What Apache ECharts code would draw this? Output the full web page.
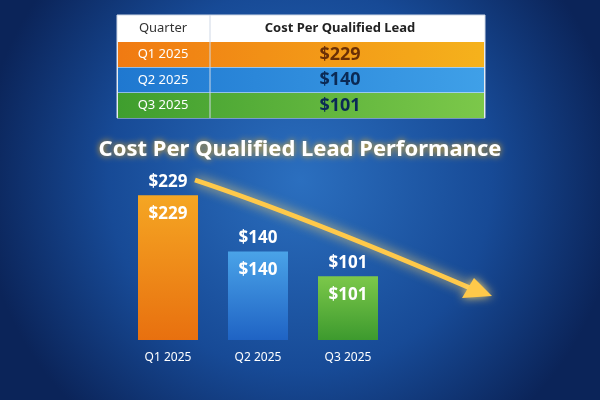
<!DOCTYPE html>
<html><head><meta charset="utf-8">
<script src="https://cdn.jsdelivr.net/npm/echarts@6/dist/echarts.min.js"></script>
<style>html,body{margin:0;padding:0;}#c{width:600px;height:400px;}</style>
</head><body><div id="c"></div>
<script>
const categories = ['Q1 2025','Q2 2025','Q3 2025'];
const values = [229,140,101];
const tableHeader = ['Quarter','Cost Per Qualified Lead'];
const colors = [['#f5a623','#e8700f'],['#4aa3e8','#1f63c4'],['#7cc84a','#3d9a2e']];
const rowColors = [['#f07a12','#f5b21c'],['#1f78d0','#3fa0e8'],['#3f9e2e','#7cc84a']];

const chart = echarts.init(document.getElementById('c'));
const g = [];
g.push({type:'rect',shape:{x:117,y:15,width:368,height:103},style:{fill:'#fff',stroke:'#cfd8e6',lineWidth:1}});
g.push({type:'text',style:{text:tableHeader[0],x:163,y:28,align:'center',verticalAlign:'middle',fill:'#333',font:'13px "Noto Sans"'}});
g.push({type:'text',style:{text:tableHeader[1],x:340,y:28,align:'center',verticalAlign:'middle',fill:'#222',font:'bold 13px "Noto Sans"'}});
values.forEach((v,i)=>{
  const y=42+i*25.5;
  g.push({type:'rect',shape:{x:118,y:y,width:366,height:25},style:{fill:new echarts.graphic.LinearGradient(0,0,1,0,[{offset:0,color:rowColors[i][0]},{offset:1,color:rowColors[i][1]}])}});
  g.push({type:'text',style:{text:categories[i],x:163,y:y+12.5,align:'center',verticalAlign:'middle',fill:'#fff',font:'13px "Noto Sans"'}});
  g.push({type:'text',style:{text:'$'+v,x:340,y:y+12.5,align:'center',verticalAlign:'middle',fill:i==0?'#6b2f06':'#0b2a55',font:'bold 18px "Noto Sans"'}});
});
g.push({type:'line',shape:{x1:210,y1:15,x2:210,y2:118},style:{stroke:'#cfd8e6',lineWidth:1}});
g.push({type:'bezierCurve',shape:{x1:195,y1:180,cpx1:300,cpy1:215,x2:470,y2:288},style:{stroke:'#ffc94a',lineWidth:5,shadowBlur:12,shadowColor:'#ffd76a'}});
g.push({type:'polygon',shape:{points:[[492,296],[462,298],[474,278]]},style:{fill:'#ffc94a',shadowBlur:10,shadowColor:'#ffd76a'}});

chart.setOption({
  backgroundColor:new echarts.graphic.RadialGradient(0.5,0.45,0.8,[{offset:0,color:'#2b6fbf'},{offset:0.6,color:'#174a96'},{offset:1,color:'#0b2459'}]),
  title:{text:'Cost Per Qualified Lead Performance',left:'center',top:134,textStyle:{color:'#fff',fontSize:22,fontWeight:'bold',fontFamily:'"Noto Sans"',textShadowColor:'#f5b21c',textShadowBlur:6}},
  grid:{left:123,width:270,top:160,bottom:60},
  xAxis:{type:'category',data:categories,axisLine:{show:false},axisTick:{show:false},axisLabel:{color:'#fff',fontSize:12,margin:12,fontFamily:'"Noto Sans"'}},
  yAxis:{type:'value',min:0,max:285,show:false},
  series:[{type:'bar',barWidth:60,data:values.map((v,i)=>({value:v,itemStyle:{color:new echarts.graphic.LinearGradient(0,0,0,1,[{offset:0,color:colors[i][0]},{offset:1,color:colors[i][1]}])}})),
    label:{show:true,position:'top',formatter:'${c}',color:'#fff',fontSize:17,fontWeight:'bold',fontFamily:'"Noto Sans"'}},
   {type:'bar',barWidth:60,barGap:'-100%',data:values,itemStyle:{color:'transparent'},z:3,
    label:{show:true,position:'insideTop',distance:10,formatter:'${c}',color:'#fff',fontSize:17,fontWeight:'bold',fontFamily:'"Noto Sans"'}}],
  graphic:g
});
</script></body></html>
